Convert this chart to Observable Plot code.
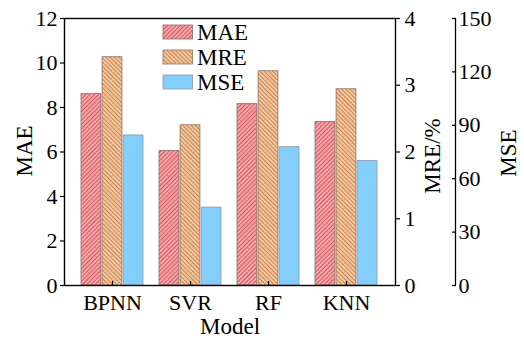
<!DOCTYPE html>
<html><head><meta charset="utf-8">
<script src="https://cdn.jsdelivr.net/npm/d3@7"></script>
<script src="https://cdn.jsdelivr.net/npm/@observablehq/plot@0.6"></script>
<style>
html,body{margin:0;padding:0;background:#fff;}
#wrap{position:relative;width:524px;height:338px;}
#wrap svg text{font-family:'Liberation Serif','Times New Roman',serif;}
</style></head><body><div id="wrap"></div>
<script>
const models = ["BPNN", "SVR", "RF", "KNN"];
const mae = [8.6, 6.05, 8.15, 7.35];
const mre = [3.42, 2.40, 3.21, 2.94];
const mse = [84.3, 43.8, 77.7, 70.0];
const maeTicks = [0, 2, 4, 6, 8, 10, 12];
const mreTicks = [0, 1, 2, 3, 4];
const mseTicks = [0, 30, 60, 90, 120, 150];
const seriesNames = ["MAE", "MRE", "MSE"];
const axisTitles = {x: "Model", left: "MAE", mid: "MRE/%", right: "MSE"};

// ratios from secondary axes to the left (MAE) axis
const mreK = 12 / 4, mseK = 150 / 12;

const rows = models.map((m, i) => ({model: m, mae: mae[i], mre: mre[i], mse: mse[i]}));

const W = 524, H = 338, mL = 64, mR = 129, mT = 18, mB = 53;
const pIn = 0.2, pOut = 0.195;
const bw = d3.scaleBand().domain(models).range([mL, W - mR]).paddingInner(pIn).paddingOuter(pOut).bandwidth();
const third = bw / 3;
const font = "'Liberation Serif', 'Times New Roman', serif";
const fs = 22, tfs = 23;
const axText = {fontFamily: font, fontSize: fs};
const ttl = {fontFamily: font, fontSize: tfs, textAnchor: "middle", lineAnchor: "middle"};

const chart = Plot.plot({
  width: W, height: H,
  marginLeft: mL, marginRight: mR, marginTop: mT, marginBottom: mB,
  style: {fontFamily: font, fontSize: fs + "px", color: "#000", background: "#fff", overflow: "visible"},
  x: {domain: models, paddingInner: pIn, paddingOuter: pOut, label: null},
  y: {domain: [0, 12], label: null},
  marks: [
    Plot.barY(rows, {x: "model", y: "mae", fill: "url(#hatchMAE)", stroke: "#8c6a6a", strokeWidth: 0.8, insetRight: 2 * third}),
    Plot.barY(rows, {x: "model", y: d => d.mre * mreK, fill: "url(#hatchMRE)", stroke: "#8c7560", strokeWidth: 0.8, insetLeft: third, insetRight: third}),
    Plot.barY(rows, {x: "model", y: d => d.mse / mseK, fill: "#84CEFB", stroke: "#8a9aa6", strokeWidth: 0.8, insetLeft: 2 * third}),
    Plot.frame({stroke: "#000", strokeWidth: 1.4}),
    Plot.axisX({tickSize: -4, tickPadding: 13, strokeWidth: 1.2, label: null, ...axText}),
    Plot.axisY({anchor: "left", ticks: maeTicks, tickSize: 4, tickPadding: 3, strokeWidth: 1.2, label: null, ...axText}),
    Plot.axisY({anchor: "right", ticks: mreTicks.map(v => v * mreK), tickFormat: v => String(Math.round(v / mreK)), tickSize: 4, tickPadding: 5, strokeWidth: 1.2, label: null, ...axText}),
    Plot.axisY({anchor: "right", ticks: mseTicks.map(v => v / mseK), tickFormat: v => String(Math.round(v * mseK)), tickSize: -4, tickPadding: 7, strokeWidth: 1.2, dx: 60, label: null, ...axText}),
    Plot.ruleX([0], {x: null, y1: 0, y2: 12, stroke: "#000", strokeWidth: 1.3, dx: 455 - (mL + W - mR) / 2}),
    Plot.text([axisTitles.left], {frameAnchor: "left", rotate: -90, dx: -40, dy: -1, ...ttl}),
    Plot.text([axisTitles.mid], {frameAnchor: "right", rotate: -90, dx: 37, dy: 4, ...ttl}),
    Plot.text([axisTitles.right], {frameAnchor: "right", rotate: -90, dx: 113, dy: 1, ...ttl}),
    Plot.text([axisTitles.x], {frameAnchor: "bottom", dy: 41, ...ttl})
  ]
});

const svg = d3.select(chart);
const defs = svg.insert("defs", ":first-child");
function hatch(id, bg, fg, angle) {
  const p = defs.append("pattern").attr("id", id).attr("patternUnits", "userSpaceOnUse")
    .attr("width", 3).attr("height", 3).attr("patternTransform", `rotate(${angle})`);
  p.append("rect").attr("width", 3).attr("height", 3).attr("fill", bg);
  p.append("line").attr("x1", 1.5).attr("y1", 0).attr("x2", 1.5).attr("y2", 3)
    .attr("stroke", fg).attr("stroke-width", 1.1);
}
hatch("hatchMAE", "#F8A9AC", "#CF5A60", 45);
hatch("hatchMRE", "#F9C9A0", "#C08657", -45);

// legend
const legFills = ["url(#hatchMAE)", "url(#hatchMRE)", "#84CEFB"];
const legStrokes = ["#8c6a6a", "#8c7560", "#8a9aa6"];
const lg = svg.append("g").attr("font-family", font).attr("font-size", tfs).attr("text-anchor", "start");
seriesNames.forEach((name, i) => {
  const y0 = 25 + i * 25;
  lg.append("rect").attr("x", 163).attr("y", y0).attr("width", 29.5).attr("height", 14)
    .attr("fill", legFills[i]).attr("stroke", legStrokes[i]).attr("stroke-width", 0.8);
  lg.append("text").attr("x", 197).attr("y", y0 + 7).attr("dy", "0.35em").attr("text-anchor", "start").text(name);
});

document.getElementById("wrap").appendChild(chart);
</script>
</body></html>
